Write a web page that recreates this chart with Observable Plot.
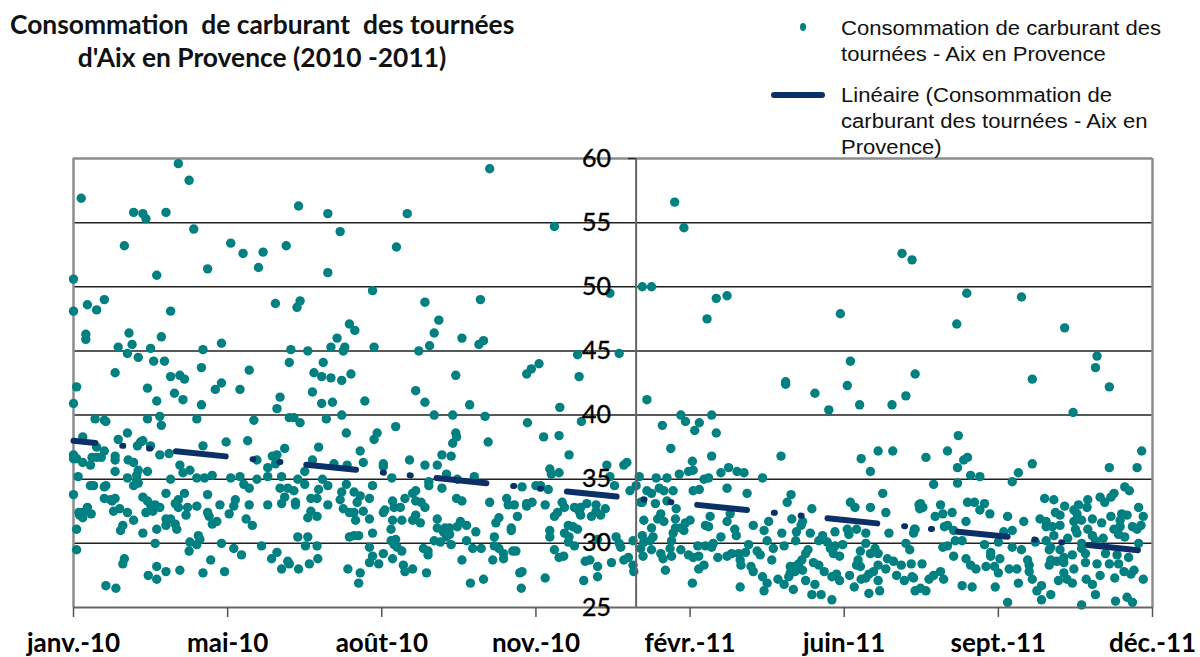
<!DOCTYPE html>
<html lang="fr">
<head>
<meta charset="utf-8">
<script src="https://cdn.jsdelivr.net/npm/d3@7"></script>
<script src="https://cdn.jsdelivr.net/npm/@observablehq/plot@0.6"></script>
<style>
html,body{margin:0;padding:0;background:#fff;overflow:hidden}
#page{position:relative;width:1200px;height:657px}
#header{height:148px}
#title{position:absolute;left:10px;top:8px;width:504px;text-align:center;font:bold 26.4px/33px Lato,sans-serif;color:#111;white-space:pre}
.leg{position:absolute;left:841px;width:340px;font:20px/26px "Liberation Sans",Arial,sans-serif;color:#111;z-index:2;white-space:pre;transform:scaleX(1.103);transform-origin:left top}
#dot{position:absolute;left:800px;top:23px;width:6px;height:8px;border-radius:50%;background:#008080}
#dash{position:absolute;left:771px;top:92px;width:54px;height:6px;border-radius:3px;background:#0b3068}
</style>
</head>
<body>
<div id="page">
<div id="header">
<div id="title">Consommation  de carburant  des tournées
d'Aix en Provence (2010 -2011)</div>
<div id="dot"></div>
<div class="leg" style="top:15px">Consommation de carburant des
tournées - Aix en Provence</div>
<div id="dash"></div>
<div class="leg" style="top:82px">Linéaire (Consommation de
carburant des tournées - Aix en
Provence)</div>
</div>
<div id="chart"></div>
</div>
<script>
// [jour depuis le début de l'axe, consommation]
const pointsHautGauche=[[0,50.6],[5,56.9],[0,48.1],[9,48.6],[15,48.2],[20,49],[8,46.3],[8,45.9],[29,45.3],[35,44.8],[36,46.4],[38,45.5],[42,44.5],[27,43.3],[33,53.2],[39,55.8],[45,55.7],[47,55.3],[54,50.9],[63,48.1],[60,55.8],[68,59.6],[75,58.3],[78,54.5],[57,46.1],[50,45.2],[52,44.2],[59,44.2],[63,43],[69,43.1],[72,42.8],[83,43.7],[84,45.1],[87,51.4],[96,45.6],[96,42.5],[102,53.4],[110,52.6],[123,52.7],[120,51.5],[114,43.5],[138,53.2],[131,48.7],[145,48.4],[147,48.9],[146,56.3],[165,55.7],[173,54.3],[165,51.1],[179,47.1],[171,46],[167,45.3],[176,45.3],[175,45],[141,45.1],[152,45],[140,44.1],[162,44.1],[156,43.3],[161,43],[167,42.9],[174,42.7],[180,43.2]];
const pointsHautCentre=[[182.5,46.6],[195,45.3],[216.5,55.7],[209.5,53.1],[194,49.7],[228,48.8],[237,47.4],[234,46.4],[231,45.4],[224,45],[252,46],[263,45.5],[266,45.8],[264,49],[270,59.2],[248,43.1],[312,54.7],[302,44],[297,43.6],[294,43.2],[327,44.7],[328,43],[348,49.5],[354,44.8]];
const pointsHautDroite=[[369,50],[375,50],[390,56.6],[396,54.6],[417,49.1],[424,49.3],[411,47.5],[497.5,47.9],[504,44.2],[537.5,52.6],[544,52.1],[546,43.2],[462,42.6],[579.5,49.5],[615,49.2],[573,47.1],[643,46.8],[664,44.6],[663,43.7],[622,42.8]];
const pointsBas2010a=[[2,42.2],[0,40.9],[14,39.7],[20,39.6],[21,39.5],[6,38.3],[35,38.6],[29,38.1],[15,37.5],[20,37.2],[45,38],[43.5,37.9],[41.5,37.6],[50,37.6],[0,36.9],[0,36.6],[2,36.6],[6,36.3],[11,36.1],[12,36.7],[15,36.7],[18,36.7],[27,36.8],[27,36.5],[35.5,36.5],[39,36.3],[56,36.9],[62,37],[27,35.6],[42,35.7],[48,35.6],[41,35.3],[3,35.2],[35,35.1],[41,34.9],[42,34.7],[39,34.5],[11,34.5],[13,34.5],[20,34.4],[21,34.5],[0,33.8],[20,33.5],[24,33.4],[27,33.5],[25,33.3],[45,33.6],[48,33.3],[60,33.9],[72,33.9],[68,33.4],[66,33.1],[68,32.8],[50,33],[53,33],[56,32.8],[30,32.7],[26,32.5],[35,32.4],[39,31.8],[9,32.8],[3.5,32.4],[6,32.4],[11.5,32.3],[6,32],[4,32.2],[47,32.4],[51.5,32.5],[74,32.8],[73,32.2],[80,32.9],[87,33.8],[95,33],[87,32.4],[88,32.1],[90,31.5],[93,31.7],[101,32.3],[105,33.4],[104,32.9],[114,33],[126,33],[112,31.9],[116,31.4],[60,31.9],[63,31.9],[66,31.5],[60,31.4],[54,31.1],[67,31.1],[32,31.4],[30.5,31],[2,31.1],[45,30.8],[53,30],[75.5,30.1],[81,30.6],[82,30.3],[80,29.9],[75,29.4],[96,30],[2,29.5],[104,29.6],[109,29.1],[122,29.8],[132,29.3],[128.5,28.8],[145.5,30.5],[152,30.5],[150.5,29.8],[158,29.8],[158.5,28.8],[139,28.6],[140,28.4],[135,28],[146,28],[153,28.4],[89,28.7],[33,28.8],[32,28.4],[54,28.2],[48.5,27.5],[54,27.2],[60,27.8],[69,27.9],[84,27.7],[98,27.8],[21,26.7],[27.5,26.5],[178,28]];
const pointsBas2010b=[[48,42.1],[54,41.1],[65.5,41.7],[71,41.2],[83,40.8],[92,42],[108,42],[134,41.4],[132,40.5],[155,41.8],[161,40.9],[168,41],[174,40],[48,39.7],[56,39.9],[57,39.2],[80,39.7],[117,39.6],[140,39.8],[143,39.8],[147,39.4],[164,39.7],[177,38.6],[84,37.6],[99,37.9],[113,38],[137,37.4],[159,37.5],[129,36.8],[132,36.9],[119,36.5],[131,36.2],[155,36.5],[169,36.2],[177.5,36.1],[69,36.1],[75.5,35.7],[71,35.5],[126,35.9],[150,35.6],[126,35.2],[135,35.2],[90,35.3],[80,35.1],[85,35.1],[63,35],[102,35.1],[108,35.2],[119,35],[110.5,34.6],[114,34.3],[145.5,35],[150,34.6],[161.5,35],[165,34.5],[159,34.2],[177,34.6],[174,34],[134,34.3],[139,34.3],[143,34.1],[137,33.6],[135,33.1],[144,33.2],[144,33],[154,33.5],[158,33.5],[173,33.4],[165,33],[154,32.5],[152,32],[158,32.1],[175,32.7],[179,32.4],[179,30.5]];
const pointsBas2010c=[[222,41.9],[189,41.1],[228,41],[257,40.8],[315.5,40.6],[234,40],[246,40],[267,39.9],[294.5,39.4],[329.5,39.5],[209,39.1],[197,38.6],[195,38.1],[248,38.6],[248.5,38.3],[246,37.8],[269,37.9],[305,38.3],[315,38.4],[186,37.2],[188,36.3],[239,36.9],[245,36.8],[321.5,36.9],[218,36.5],[201,36.2],[201,36],[228,36.1],[236,36.1],[359,36.3],[357,36.1],[346,36.1],[309,35.8],[310,35.4],[315,35.5],[242,35.4],[260,35.2],[206.5,35.1],[348,35.2],[367,35.2],[230.5,34.8],[230.5,34.5],[249,35],[194,34.5],[239,34.3],[351,34.5],[365,34.5],[300,34.5],[303,34.5],[291,34.4],[308,34.2],[361,34.1],[222,34.1],[220,33.9],[182,34],[186,33.7],[192,33.5],[184,33.2],[207,33.3],[215,33.5],[208,32.8],[212,32.8],[222,33.3],[225.5,33.2],[228,32.8],[248.5,33.5],[252,33.3],[270,33.2],[281,33.5],[282,33],[286,33],[294,33.1],[294,32.9],[297.5,33.2],[306,33],[317,33.2],[318.5,32.8],[314,32.4],[312,32.1],[325,32.8],[329,32.8],[333,33.1],[339,33],[339,32.5],[345,32.7],[342,32.2],[336,32.1],[329,32.2],[328,32.5],[368,33.2],[188,32.5],[182,32.4],[192,31.9],[183,31.8],[202,32.6],[201,32.4],[207,31.8],[213,31.8],[220,31.8],[222,32.2],[225,31.6],[236,31.9],[251,31.7],[255,31.4],[249,31.3],[288,32.1],[276,32],[274,31.6]];
const pointsBas2010d=[[206,31.1],[236,31.2],[241,31.2],[244,31.2],[240,30.9],[244,30.7],[242,30.5],[194,30.8],[185,30.6],[182,30.6],[261,30.9],[284,31.2],[284,31],[309,31],[309,30.5],[273,30.5],[321,31.4],[324,31.3],[327,31.1],[318.5,30.8],[321.5,30.5],[321,30.1],[325,29.8],[206,30.2],[209,30.3],[234,30.2],[238,30.1],[245,29.9],[255,30.2],[273,29.8],[276,29.6],[208,29.9],[192,29.7],[210,29.7],[213,29.4],[340,30.3],[352,30.5],[354,30],[355,29.7],[363,30.2],[259,29.6],[264.5,29.6],[227,29.6],[230,29.4],[230,29.1],[201,29.2],[194,29],[207,28.8],[192,28.5],[198,28.4],[252,28.7],[272,28.7],[279,28.8],[279,29.2],[285,29.4],[287,29.4],[312,29.5],[315,28.9],[318,29],[332,28.6],[335,28.7],[349,28.5],[357,28.7],[360,28.9],[363,28.3],[363.5,27.8],[340,28.2],[340,27.4],[331,27.1],[306,27.3],[214,28.3],[215,27.8],[220,28],[229,27.7],[291,27.8],[289.5,27.7],[186,27.7],[185,26.9],[257.5,26.9],[266,27.2],[290.5,26.5]];
const pointsBas2011a=[[462,42.4],[481,41.7],[502,42.3],[510,40.8],[490,40.4],[531,40.8],[540,41.5],[372,41.2],[394,40],[397,39.5],[414,40],[406,39.4],[382,39.2],[403,38.8],[417,38.6],[387.5,37.4],[459,36.8],[414,36.8],[401.5,36.4],[511,36.6],[522,37.2],[531.5,37.2],[517,35.6],[425,35.9],[420,35.5],[430.5,35.6],[435,35.5],[447,35.1],[402,35.7],[399,35.6],[393,35.4],[385,35.1],[378,35.1],[412,35.1],[409,35],[380,34.3],[389,34.1],[383,34.1],[372,34.1],[375,33.9],[402,34.1],[406,34.2],[424,34.3],[437,33.9],[465.5,33.8],[463,33.2],[525,33.9],[504,33.2],[507,32.8],[517,32.8],[479,32.7],[548.5,33],[549,32.7],[369,33.2],[377.5,33.1],[385,33.3],[391,32.7],[527,32.4],[426,32.3],[413,32.1],[381,32.3],[379,31.9],[383,31.7],[390.5,31.9],[370,31.8],[400,31.8],[424,31.7],[466,31.9],[451,31.7],[473,31.7],[397,31.6],[410,31.4],[412,31.3],[375,31.2],[390.5,31.2],[394,31.2],[441,31.4],[396,31],[448,31],[472,31.4],[469,30.9],[429,31.1],[430,30.6],[502,31.1],[508,31.1],[503,30.7],[494,30.9],[546,31.1],[545,30.8],[529,30.8],[514,30.8],[459.5,30.8],[478,30.8],[369,30.6],[376,30.5],[389,30.8],[420,30.5],[388,30.2],[374,30.2],[370,30.1],[450,30.2],[468.5,30.2],[486,30.6],[483.5,30.2],[489,30.1],[514,30],[540,30],[438,29.9],[405,29.8],[410,29.8],[415,30],[414,29.7],[461,29.8],[494,29.8],[499,29.9]];
const pointsBas2011b=[[454,29.6],[491,29.6],[368,29.6],[375,29.5],[387,29.6],[394,29.5],[443.5,29.4],[436,29.3],[445.5,29.1],[476.5,29.5],[475,29.2],[493,29.2],[497,29],[510.5,29.4],[520,29.6],[517,29.2],[522,29.2],[542.5,29.5],[381,29.2],[388,29],[369.5,29],[399,29.1],[402,28.9],[405.6,29],[418,28.9],[424,29],[427,29.2],[431.5,29.2],[382.5,28.8],[453,28.7],[432.5,28.7],[472.5,28.7],[509,28.7],[528,28.8],[532,28.6],[537,28.3],[543.5,28.4],[409,28.3],[405.6,28],[433,28.3],[439.5,28.2],[441,27.8],[465,28.2],[468,28.2],[470.5,28.4],[480,28.5],[483.5,28.3],[508,28.3],[510.5,28.2],[522,28.3],[527,28],[384,27.9],[487,27.8],[519,27.8],[516,27.6],[465,27.7],[468,27.8],[464,27.4],[503.5,27.5],[495,27.6],[492,27.4],[497,27.1],[447,27.4],[457,27.2],[475,27.1],[511,27.2],[514,27.3],[534,27.5],[539,27.1],[544,27.4],[522,27.1],[401.5,26.9],[432.5,26.6],[450,26.9],[461,26.8],[481,26.8],[506.5,26.6],[467,26.4],[448,26.3],[523,26.3],[546,26.3],[479,26],[485,26],[516,26.1],[492,25.6],[473,27.9]];
const pointsBas2011c=[[672,42.2],[648.5,40.2],[574,38.4],[567,37.2],[553,36.7],[580,36.7],[577.5,36.5],[573.5,35.9],[693,37.2],[672,35.9],[690,35.9],[622,36.2],[613,35.5],[582,35.3],[588,35.2],[609,34.8],[558,34.6],[573.5,34.7],[682,34.4],[685,34.1],[630,33.5],[636,33.4],[675,33.9],[673,33.6],[666,33.6],[669,33.2],[658,33.4],[657.5,32.8],[652,33],[649,32.6],[643,32.9],[549.5,33.1],[551,32.8],[562.5,33],[580,33.2],[584.5,33.2],[591,33.1],[588,32.6],[691,32.8],[570,32.4],[564,32.3],[559,32.1],[594.5,32.3],[606,32.1],[637,32.4],[640,32.2],[627,31.9],[651,32.3],[654,31.8],[649,31.7],[661,31.9],[673,32.1],[680,32.3],[683.5,32.2],[694,32.1],[579,31.7],[616.5,31.7],[667,31.6],[679,31.8],[631,31.7],[565,31.3],[567,31.4],[571,31],[545.5,31.1],[631,31.3],[640,31.4],[635,31.3],[650,31.1],[658,31.1],[675,31.1],[679,31.3],[692.5,31.4],[687,31.3],[690,31.1]];
const pointsBas2011d=[[609,31],[636,30.6],[603.5,30.9],[651,30.8],[661,30.6],[668,30.4],[678,30.7],[682,30.5],[645,30.4],[572,30.2],[576.5,30.2],[600,30.1],[624,30.1],[631,30.2],[654,30],[663,30.2],[691,30],[591,29.9],[564,29.7],[567,29.8],[609,29.7],[634,29.7],[633,29.5],[615,29.5],[640,29.5],[654,29.6],[595,29.3],[656.5,29.2],[669.5,29.2],[677,29.1],[571,29],[595,29],[601,28.8],[579,28.8],[619,28.7],[642.5,28.9],[648,29.1],[684.5,28.9],[634,28.7],[638,28.6],[633,28.3],[642.5,28.5],[656.5,28.5],[664,28.4],[672,28.4],[678,28.4],[550.5,28.4],[582,28.3],[585.5,28],[592,28.2],[597.5,28.2],[600,27.7],[607,28],[612,28],[620,28.3],[620,27.8],[649,28],[681.5,27.8],[688,27.9],[686,27.6],[562.5,27.8],[558,27.5],[555,27.2],[564.5,27.2],[545,27.3],[622,27.2],[642.5,27.7],[639,27.1],[644.5,27.2],[648,26.9],[657,27.2],[666,27.5],[675.5,27.3],[694,27.2],[661,26.8],[613,26.9],[576.5,26.7],[583,26.6],[598,26.6],[628,26.7],[625,26.3],[549.5,26.5],[553,26.3],[634,26],[663,26],[628,25.6],[606,25.4],[676,25.5],[683.5,25.8],[687,25.4],[654,25.2]];
const points=[...pointsHautGauche,...pointsHautCentre,...pointsHautDroite,...pointsBas2010a,...pointsBas2010b,...pointsBas2010c,...pointsBas2010d,...pointsBas2011a,...pointsBas2011b,...pointsBas2011c,...pointsBas2011d];

const tendance=[[0,38],[696,29.4]];
const joursGraduation=[0,100,200,300,400,500,600,700];
const moisGraduation=["janv.-10","mai-10","août-10","nov.-10","févr.-11","juin-11","sept.-11","déc.-11"];
const valeursY=[25,30,35,40,45,50,55,60];
const lignesY=[30,35,40,45,50,55];
const jourAxeY=365;

const chart=Plot.plot({
  width:1200,height:509,
  marginTop:10,marginBottom:50,marginLeft:73,marginRight:48,
  style:{background:"transparent",overflow:"visible",color:"#000"},
  x:{domain:[0,700]},
  y:{domain:[25,60],axis:null},
  marks:[
    Plot.ruleY(lignesY,{stroke:"#222",strokeWidth:1.5}),
    Plot.ruleY([60],{stroke:"#8c8c8c",strokeWidth:2.5}),
    Plot.ruleX([0,700],{stroke:"#8c8c8c",strokeWidth:2.5}),
    Plot.dot(points,{x:d=>d[0],y:d=>d[1],r:4.7,fill:"#008080",stroke:"none"}),
    Plot.line(tendance,{x:d=>d[0],y:d=>d[1],stroke:"#0b3068",strokeWidth:6,strokeLinecap:"round",strokeDasharray:"50 27 1 26 1 26",strokeDashoffset:28}),
    Plot.ruleX([jourAxeY],{stroke:"#666",strokeWidth:2}),
    Plot.ruleY([60],{x1:jourAxeY-5,x2:jourAxeY,stroke:"#333",strokeWidth:1.5}),
    Plot.ruleY([25],{stroke:"#666",strokeWidth:2}),
    Plot.text(valeursY,{x:()=>jourAxeY,y:d=>d,text:d=>String(d),dx:-25,textAnchor:"end",fontSize:25,fontFamily:"Lato,sans-serif",fill:"#000",stroke:"#000",strokeWidth:0.4}),
    Plot.axisX({anchor:"bottom",ticks:joursGraduation,tickFormat:d=>moisGraduation[joursGraduation.indexOf(d)],tickSize:10,tickPadding:16,fontSize:26,fontWeight:"bold",fontFamily:"Lato,sans-serif",label:null,stroke:"#555",strokeWidth:1.5,fill:"#000"})
  ]
});
document.getElementById("chart").appendChild(chart);
</script>
</body>
</html>
